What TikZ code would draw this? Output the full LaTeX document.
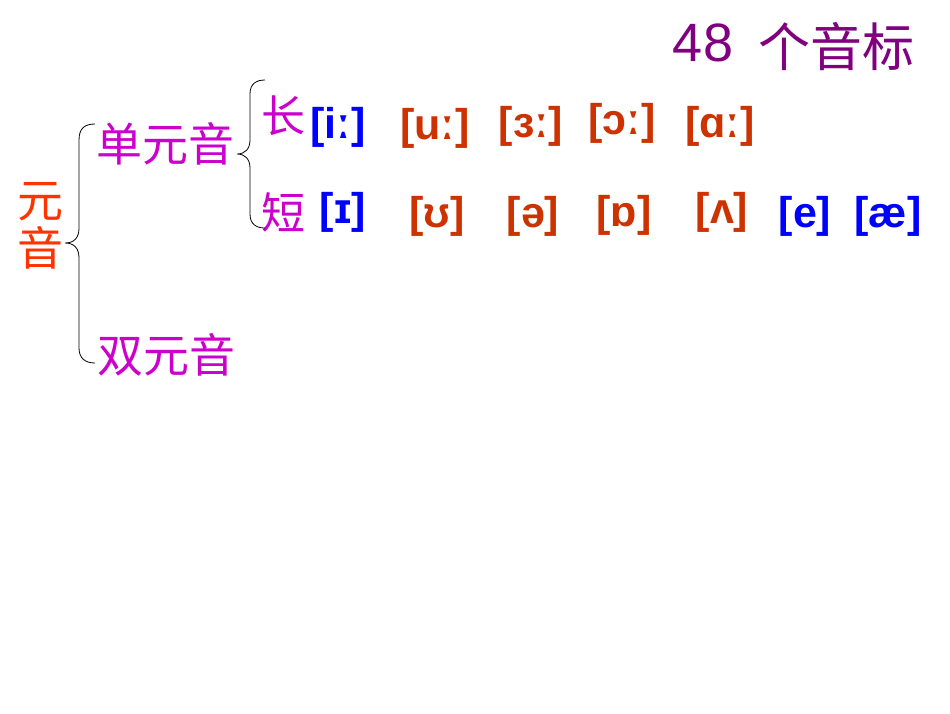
\documentclass[tikz,border=0pt]{standalone}
\usepackage{fontspec}
\setmainfont{Liberation Sans}
\newfontfamily\cjk{Noto Sans CJK SC}
\newfontfamily\ipa{Liberation Sans}
\definecolor{titlepurple}{HTML}{800080}
\definecolor{rootred}{HTML}{FF3300}
\definecolor{mag}{HTML}{CC00CC}
\definecolor{ipared}{HTML}{CC3300}
\definecolor{ipablue}{HTML}{0000FF}
\begin{document}
\begin{tikzpicture}[x=1pt,y=-1pt,
  cn/.style={inner sep=0pt,anchor=center,font=\cjk\fontsize{46}{50}\selectfont,text=mag},
  ip/.style={inner sep=0pt,anchor=center,font=\ipa\bfseries\fontsize{43}{47}\selectfont},
  ipr/.style={ip,text=ipared},
  ipb/.style={ip,text=ipablue},
  brace/.style={draw=black,line width=0.8pt}]
\useasboundingbox (0,0) rectangle (950,713);
\fill[white] (0,0) rectangle (950,713);
% title
\node[inner sep=0pt,font=\fontsize{54}{58}\selectfont,text=titlepurple] (t48) at (703,43) {48};
\node[inner sep=0pt,font=\cjk\fontsize{52}{56}\selectfont,text=titlepurple] (tt) at (836,47) {个音标};
% root
\node[cn,text=rootred,align=center,font=\cjk\fontsize{46}{48}\selectfont] (root) at (40,226) {元\\音};
\node[cn] (dan) at (165,144) {单元音};
\node[cn] (shuang) at (166,355) {双元音};
\node[cn,font=\cjk\fontsize{44}{48}\selectfont] (chang) at (283,116) {长};
\node[cn,font=\cjk\fontsize{44}{48}\selectfont] (duan) at (283,212) {短};
% braces
\coordinate (b1t) at (95,124);
\coordinate (b1m) at (65,243);
\coordinate (b1b) at (95,363);
\draw[brace] (b1t) .. controls (85,124) and (79,128) .. (79,140) -- (79,228)
  .. controls (79,238) and (74,243) .. (b1m) .. controls (74,243) and (79,248) .. (79,258)
  -- (79,348) .. controls (79,358) and (85,363) .. (b1b);
\coordinate (b2t) at (265,80);
\coordinate (b2m) at (237,154);
\coordinate (b2b) at (265,228);
\draw[brace] (b2t) .. controls (256,80) and (250,84) .. (250,94) -- (250,140)
  .. controls (250,149) and (245,154) .. (b2m) .. controls (245,154) and (250,159) .. (250,168)
  -- (250,214) .. controls (250,224) and (256,228) .. (b2b);
% long vowels
\node[ipb] (l1) at (338,127) {[iː]};
\node[ipr] (l2) at (435,128) {[uː]};
\node[ipr] (l3) at (531,126) {[ɜː]};
\node[ipr] (l4) at (622,123) {[ɔː]};
\node[ipr] (l5) at (720,126) {[ɑː]};
% short vowels
\node[ipb] (s1) at (343,212) {[ɪ]};
\node[ipr] (s2) at (437,216) {[ʊ]};
\node[ipr] (s3) at (533,216) {[ə]};
\node[ipr] (s4) at (624,215) {[ɒ]};
\node[ipr] (s5) at (722,212) {[ʌ]};
\node[ipb] (s6) at (805,216) {[e]};
\node[ipb] (s7) at (888,216) {[æ]};
\end{tikzpicture}
\end{document}
